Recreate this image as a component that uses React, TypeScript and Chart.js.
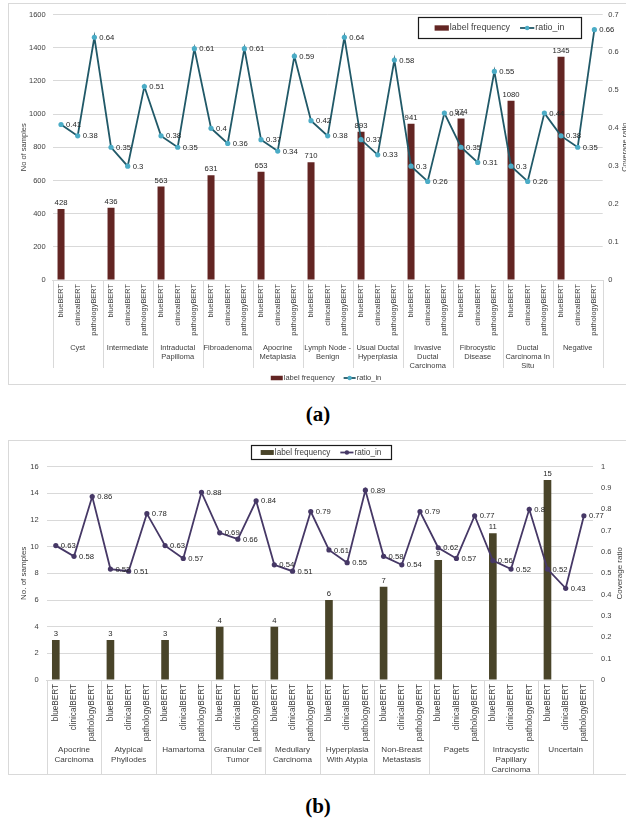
import React, { useEffect, useRef } from "react";
import { Chart, registerables } from "chart.js";
Chart.register(...registerables);

const modelNames = ["blueBERT", "clinicalBERT", "pathologyBERT"];

const categoriesA: string[][] = [
  ["Cyst"], ["Intermediate"], ["Intraductal", "Papilloma"], ["Fibroadenoma"],
  ["Apocrine", "Metaplasia"], ["Lymph Node -", "Benign"], ["Usual Ductal", "Hyperplasia"],
  ["Invasive", "Ductal", "Carcinoma"], ["Fibrocystic", "Disease"],
  ["Ductal", "Carcinoma In", "Situ"], ["Negative"],
];
const frequencyA = [428, 436, 563, 631, 653, 710, 893, 941, 974, 1080, 1345];
const ratioA = [
  0.41, 0.38, 0.64, 0.35, 0.3, 0.51, 0.38, 0.35, 0.61, 0.4, 0.36, 0.61,
  0.37, 0.34, 0.59, 0.42, 0.38, 0.64, 0.37, 0.33, 0.58, 0.3, 0.26, 0.44,
  0.35, 0.31, 0.55, 0.3, 0.26, 0.44, 0.38, 0.35, 0.66,
];

const categoriesB: string[][] = [
  ["Apocrine", "Carcinoma"], ["Atypical", "Phyllodes"], ["Hamartoma"],
  ["Granular Cell", "Tumor"], ["Medullary", "Carcinoma"], ["Hyperplasia", "With Atypia"],
  ["Non-Breast", "Metastasis"], ["Pagets"], ["Intracystic", "Papillary", "Carcinoma"],
  ["Uncertain"],
];
const frequencyB = [3, 3, 3, 4, 4, 6, 7, 9, 11, 15];
const ratioB = [
  0.63, 0.58, 0.86, 0.52, 0.51, 0.78, 0.63, 0.57, 0.88, 0.69, 0.66, 0.84,
  0.54, 0.51, 0.79, 0.61, 0.55, 0.89, 0.58, 0.54, 0.79, 0.62, 0.57, 0.77,
  0.56, 0.52, 0.8, 0.52, 0.43, 0.77,
];

const FONT = "'Liberation Sans', Arial, sans-serif";
const TXT = "#404040";
const GRID = "#d9d9d9";

type Spec = {
  groups: string[][];
  freq: number[];
  ratio: number[];
  barColor: string;
  lineColor: string;
  pointColor: string;
  yMax: number;
  yStep: number;
  y1Max: number;
  y1Step: number;
  leftW: number;
  rightW: number;
  padTop: number;
  xH: number;
  leftPad: number;
  rightPad: number;
  tickFont: number;
  modelFont: number;
  groupFont: number;
  groupY: number;
  groupLineH: number;
  sepBottom: number;
  leftTitle: string;
  leftTitleX: number;
  rightTitleX: number;
  titleFont: number;
  box: { x: number; y: number; w: number; h: number; font: number };
  bottomLegend?: { y: number; cx: number; font: number };
};

const fmt = (v: any) => String(Number(Number(v).toFixed(2)));

function drawLegendItems(ctx: CanvasRenderingContext2D, spec: Spec, x: number, cy: number, font: number, gap: number) {
  ctx.font = `${font}px ${FONT}`;
  ctx.textBaseline = "middle";
  ctx.textAlign = "left";
  const sw = font * 1.6;
  ctx.fillStyle = spec.barColor;
  ctx.fillRect(x, cy - font * 0.3, sw, font * 0.6);
  x += sw + 1;
  ctx.fillStyle = TXT;
  ctx.fillText("label frequency", x, cy);
  x += ctx.measureText("label frequency").width + gap;
  ctx.strokeStyle = spec.lineColor;
  ctx.lineWidth = 1.8;
  ctx.beginPath();
  ctx.moveTo(x, cy);
  ctx.lineTo(x + sw, cy);
  ctx.stroke();
  ctx.fillStyle = spec.pointColor;
  ctx.beginPath();
  ctx.arc(x + sw / 2, cy, 2.2, 0, Math.PI * 2);
  ctx.fill();
  x += sw + 1;
  ctx.fillStyle = TXT;
  ctx.fillText("ratio_in", x, cy);
  return x + ctx.measureText("ratio_in").width;
}

function legendWidth(ctx: CanvasRenderingContext2D, font: number, gap: number) {
  ctx.font = `${font}px ${FONT}`;
  const sw = font * 1.6;
  return sw + 1 + ctx.measureText("label frequency").width + gap + sw + 1 + ctx.measureText("ratio_in").width;
}

function makeDecor(spec: Spec) {
  return {
    id: "decor",
    afterDraw(chart: any) {
      const { ctx, chartArea } = chart;
      const x = chart.scales.x;
      const slot = x.getPixelForValue(1) - x.getPixelForValue(0);
      ctx.save();
      ctx.strokeStyle = GRID;
      ctx.lineWidth = 1;
      for (let g = 0; g <= spec.groups.length; g++) {
        const px = Math.round(x.getPixelForValue(3 * g) - slot / 2) + 0.5;
        ctx.beginPath();
        ctx.moveTo(px, chartArea.bottom);
        ctx.lineTo(px, spec.sepBottom);
        ctx.stroke();
      }
      ctx.fillStyle = TXT;
      ctx.font = `${spec.groupFont}px ${FONT}`;
      ctx.textAlign = "center";
      ctx.textBaseline = "middle";
      spec.groups.forEach((lines, g) => {
        const cx = x.getPixelForValue(3 * g + 1);
        lines.forEach((ln, i) => ctx.fillText(ln, cx, spec.groupY + i * spec.groupLineH));
      });
      ctx.fillStyle = "#262626";
      ctx.font = `${spec.tickFont + 0.2}px ${FONT}`;
      const barMeta = chart.getDatasetMeta(0);
      const barData = chart.data.datasets[0].data;
      barMeta.data.forEach((el: any, i: number) => {
        if (barData[i] == null) return;
        ctx.textAlign = "center";
        ctx.fillText(String(barData[i]), el.x, el.y - 6);
      });
      const lineMeta = chart.getDatasetMeta(1);
      const lineData = chart.data.datasets[1].data;
      lineMeta.data.forEach((el: any, i: number) => {
        ctx.textAlign = "left";
        ctx.fillText(String(lineData[i]), el.x + 5, el.y + 0.5);
      });
      const cy = (chartArea.top + chartArea.bottom) / 2;
      ctx.fillStyle = TXT;
      ctx.font = `${spec.titleFont}px ${FONT}`;
      ctx.textAlign = "center";
      for (const [tx, t] of [[spec.leftTitleX, spec.leftTitle], [spec.rightTitleX, "Coverage ratio"]] as [number, string][]) {
        ctx.save();
        ctx.translate(tx, cy);
        ctx.rotate(-Math.PI / 2);
        ctx.fillText(t, 0, 0);
        ctx.restore();
      }
      const b = spec.box;
      ctx.strokeStyle = "#1a1a1a";
      ctx.lineWidth = 1.2;
      ctx.strokeRect(b.x + 0.5, b.y + 0.5, b.w, b.h);
      const lw = legendWidth(ctx, b.font, 10);
      drawLegendItems(ctx, spec, b.x + (b.w - lw) / 2, b.y + b.h / 2 + 0.5, b.font, 10);
      if (spec.bottomLegend) {
        const bl = spec.bottomLegend;
        const w = legendWidth(ctx, bl.font, 9);
        drawLegendItems(ctx, spec, bl.cx - w / 2, bl.y, bl.font, 9);
      }
      ctx.restore();
    },
  };
}

function makeConfig(spec: Spec): any {
  const labels = spec.groups.flatMap(() => modelNames);
  const bars = spec.freq.flatMap((v) => [v, null, null]);
  return {
    data: {
      labels,
      datasets: [
        {
          type: "bar",
          label: "label frequency",
          data: bars,
          yAxisID: "y",
          backgroundColor: spec.barColor,
          barPercentage: 0.42,
          categoryPercentage: 1,
          order: 1,
        },
        {
          type: "line",
          label: "ratio_in",
          data: spec.ratio,
          yAxisID: "y1",
          borderColor: spec.lineColor,
          borderWidth: 1.8,
          pointRadius: 2.6,
          pointBackgroundColor: spec.pointColor,
          pointBorderColor: spec.pointColor,
          pointBorderWidth: 0,
          tension: 0,
          order: 0,
        },
      ],
    },
    options: {
      responsive: false,
      animation: false,
      layout: { padding: { top: spec.padTop, left: 0, right: 0, bottom: 0 } },
      plugins: { legend: { display: false }, tooltip: { enabled: false } },
      scales: {
        x: {
          type: "category",
          offset: true,
          grid: { display: false, drawTicks: false },
          border: { display: true, color: GRID },
          ticks: {
            autoSkip: false,
            maxRotation: 90,
            minRotation: 90,
            padding: 4,
            color: TXT,
            font: { family: FONT, size: spec.modelFont },
          },
          afterFit: (s: any) => { s.height = spec.xH; },
        },
        y: {
          position: "left",
          min: 0,
          max: spec.yMax,
          ticks: { stepSize: spec.yStep, padding: spec.leftPad, color: TXT, font: { family: FONT, size: spec.tickFont }, callback: fmt },
          grid: { color: GRID, drawTicks: false },
          border: { display: false },
          afterFit: (s: any) => { s.width = spec.leftW; },
        },
        y1: {
          position: "right",
          min: 0,
          max: spec.y1Max,
          ticks: { stepSize: spec.y1Step, padding: spec.rightPad, color: TXT, font: { family: FONT, size: spec.tickFont }, callback: fmt },
          grid: { display: false, drawTicks: false },
          border: { display: false },
          afterFit: (s: any) => { s.width = spec.rightW; },
        },
      },
    },
    plugins: [makeDecor(spec)],
  };
}

const specA: Spec = {
  groups: categoriesA,
  freq: frequencyA,
  ratio: ratioA,
  barColor: "#632523",
  lineColor: "#215968",
  pointColor: "#4bacc6",
  yMax: 1600,
  yStep: 200,
  y1Max: 0.7,
  y1Step: 0.1,
  leftW: 44.7,
  rightW: 31.3,
  padTop: 8,
  xH: 105,
  leftPad: 7,
  rightPad: 5.6,
  tickFont: 7.5,
  modelFont: 7.4,
  groupFont: 7.5,
  groupY: 345,
  groupLineH: 9,
  sepBottom: 365,
  leftTitle: "No of samples",
  leftTitleX: 15.5,
  rightTitleX: 617,
  titleFont: 7.5,
  box: { x: 410, y: 14, w: 163, h: 21, font: 8.9 },
  bottomLegend: { y: 375, cx: 318, font: 7.5 },
};

const specB: Spec = {
  groups: categoriesB,
  freq: frequencyB,
  ratio: ratioB,
  barColor: "#494429",
  lineColor: "#463866",
  pointColor: "#463866",
  yMax: 16,
  yStep: 2,
  y1Max: 1,
  y1Step: 0.1,
  leftW: 38.7,
  rightW: 41,
  padTop: 26.7,
  xH: 95,
  leftPad: 8,
  rightPad: 8,
  tickFont: 7.5,
  modelFont: 8.2,
  groupFont: 8.1,
  groupY: 310,
  groupLineH: 10,
  sepBottom: 334,
  leftTitle: "No. of samples",
  leftTitleX: 16,
  rightTitleX: 612,
  titleFont: 8,
  box: { x: 243, y: 5, w: 140, h: 14, font: 8.2 },
};

function ChartBox({ spec, left, top, width, height }: { spec: Spec; left: number; top: number; width: number; height: number }) {
  const ref = useRef<HTMLCanvasElement>(null);
  useEffect(() => {
    if (!ref.current) return;
    const chart = new Chart(ref.current, makeConfig(spec));
    return () => chart.destroy();
  }, [spec]);
  return (
    <>
      <div
        style={{
          position: "absolute",
          left,
          top,
          width: width + 10,
          height,
          border: `1px solid ${GRID}`,
          boxSizing: "border-box",
        }}
      />
      <canvas
        ref={ref}
        width={width}
        height={height}
        style={{ position: "absolute", left, top, width, height }}
      />
    </>
  );
}

const captionStyle: React.CSSProperties = {
  position: "absolute",
  left: 268,
  width: 100,
  textAlign: "center",
  fontFamily: "'Liberation Serif', 'Times New Roman', serif",
  fontWeight: "bold",
  fontSize: 21,
  lineHeight: "24px",
  color: "#000",
};

export default function App() {
  return (
    <div
      style={{
        position: "absolute",
        left: 0,
        top: 0,
        width: 626,
        height: 819,
        overflow: "hidden",
        background: "#ffffff",
      }}
    >
      <ChartBox spec={specA} left={8} top={3} width={626} height={382} />
      <ChartBox spec={specB} left={8} top={440} width={626} height={335} />
      <div style={{ ...captionStyle, top: 402 }}>(a)</div>
      <div style={{ ...captionStyle, top: 794 }}>(b)</div>
    </div>
  );
}
